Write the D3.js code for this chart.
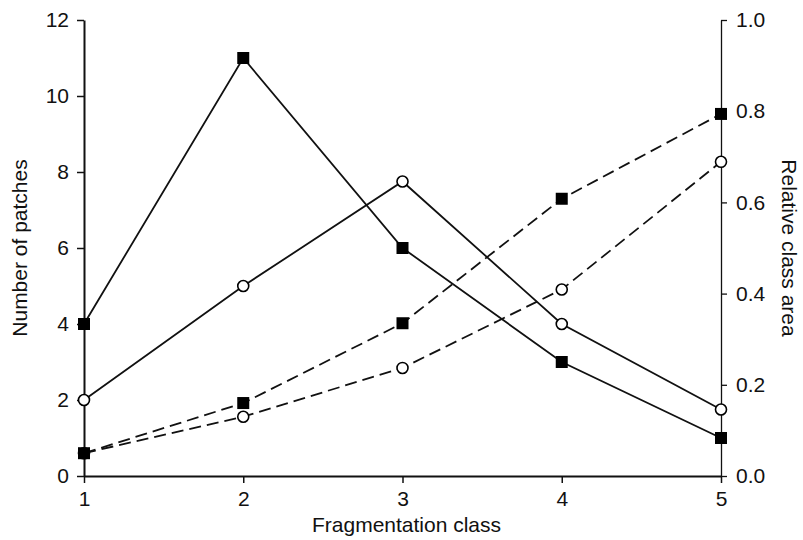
<!DOCTYPE html>
<html>
<head>
<meta charset="utf-8">
<script src="https://cdn.jsdelivr.net/npm/d3@7"></script>
<style>
  body { margin: 0; background: #fff; }
  text { font-family: "Liberation Sans", Arial, sans-serif; }
</style>
</head>
<body>
<div id="chart"></div>
<script>
// fragmentation classes on the x axis
var classes = [1, 2, 3, 4, 5];

// number of patches (left axis), solid lines
var patchesSquares = [4, 11, 6, 3, 1];
var patchesCircles = [2, 5, 7.75, 4, 1.75];

// relative class area (right axis), dashed lines
var areaSquares = [0.05, 0.16, 0.335, 0.608, 0.794];
var areaCircles = [0.05, 0.13, 0.237, 0.409, 0.689];

var leftTicks = [0, 2, 4, 6, 8, 10, 12];
var rightTicks = [0, 0.2, 0.4, 0.6, 0.8, 1.0];

var width = 803,
    height = 540,
    margin = {top: 20, right: 82, bottom: 64, left: 84},
    svg = d3.select("#chart")
            .append("svg")
            .attr("width", width)
            .attr("height", height);

var x = d3.scaleLinear().domain([1, 5]).range([margin.left, width - margin.right]);
var yL = d3.scaleLinear().domain([0, 12]).range([height - margin.bottom, margin.top]);
var yR = d3.scaleLinear().domain([0, 1]).range([height - margin.bottom, margin.top]);

// axes
var gx = svg.append("g")
    .attr("transform", "translate(0," + (height - margin.bottom) + ")")
    .call(d3.axisBottom(x).tickValues(classes).tickFormat(d3.format("d")).tickSizeOuter(0).tickSizeInner(7).tickPadding(8));

var gl = svg.append("g")
    .attr("transform", "translate(" + margin.left + ",0)")
    .call(d3.axisLeft(yL).tickValues(leftTicks).tickSizeOuter(0).tickSizeInner(7).tickPadding(8));

var gr = svg.append("g")
    .attr("transform", "translate(" + (width - margin.right) + ",0)")
    .call(d3.axisRight(yR).tickValues(rightTicks).tickFormat(d3.format(".1f")).tickSizeOuter(0).tickSizeInner(6).tickPadding(9));

[gx, gl, gr].forEach(function(g) {
    g.selectAll("text").attr("font-size", "21px").attr("fill", "#111");
    g.selectAll("line").attr("stroke", "#111").attr("stroke-width", 1.5);
    g.select(".domain").attr("stroke", "#111").attr("stroke-width", 2);
});
gr.select(".domain").attr("stroke-width", 1.3);
gr.selectAll("line").attr("stroke-width", 1.3);

// axis titles
svg.append("text")
    .attr("x", (margin.left + width - margin.right) / 2 + 4)
    .attr("y", 532)
    .attr("text-anchor", "middle")
    .attr("font-size", "21px")
    .attr("fill", "#111")
    .text("Fragmentation class");

svg.append("text")
    .attr("transform", "translate(27," + ((margin.top + height - margin.bottom) / 2) + ") rotate(-90)")
    .attr("text-anchor", "middle")
    .attr("font-size", "21px")
    .attr("fill", "#111")
    .text("Number of patches");

svg.append("text")
    .attr("transform", "translate(782," + ((margin.top + height - margin.bottom) / 2) + ") rotate(90)")
    .attr("text-anchor", "middle")
    .attr("font-size", "21px")
    .attr("fill", "#111")
    .text("Relative class area");

// series
var series = [
    {values: areaCircles, y: yR, dash: "12,6", marker: "circle"},
    {values: areaSquares, y: yR, dash: "12,6", marker: "square"},
    {values: patchesCircles, y: yL, dash: null, marker: "circle"},
    {values: patchesSquares, y: yL, dash: null, marker: "square"}
];

series.forEach(function(s) {
    var line = d3.line()
        .x(function(d, i) { return x(classes[i]); })
        .y(function(d) { return s.y(d); });

    svg.append("path")
        .datum(s.values)
        .attr("d", line)
        .attr("fill", "none")
        .attr("stroke", "#111")
        .attr("stroke-width", 1.8)
        .attr("stroke-dasharray", s.dash);
});

series.forEach(function(s) {
    if (s.marker == "square") {
        svg.selectAll(null).data(s.values).enter()
            .append("rect")
            .attr("x", function(d, i) { return x(classes[i]) - 6; })
            .attr("y", function(d) { return s.y(d) - 6; })
            .attr("width", 12)
            .attr("height", 12)
            .attr("fill", "#000");
    } else {
        svg.selectAll(null).data(s.values).enter()
            .append("circle")
            .attr("cx", function(d, i) { return x(classes[i]); })
            .attr("cy", function(d) { return s.y(d); })
            .attr("r", 5.5)
            .attr("fill", "#fff")
            .attr("stroke", "#000")
            .attr("stroke-width", 1.6);
    }
});
</script>
</body>
</html>
